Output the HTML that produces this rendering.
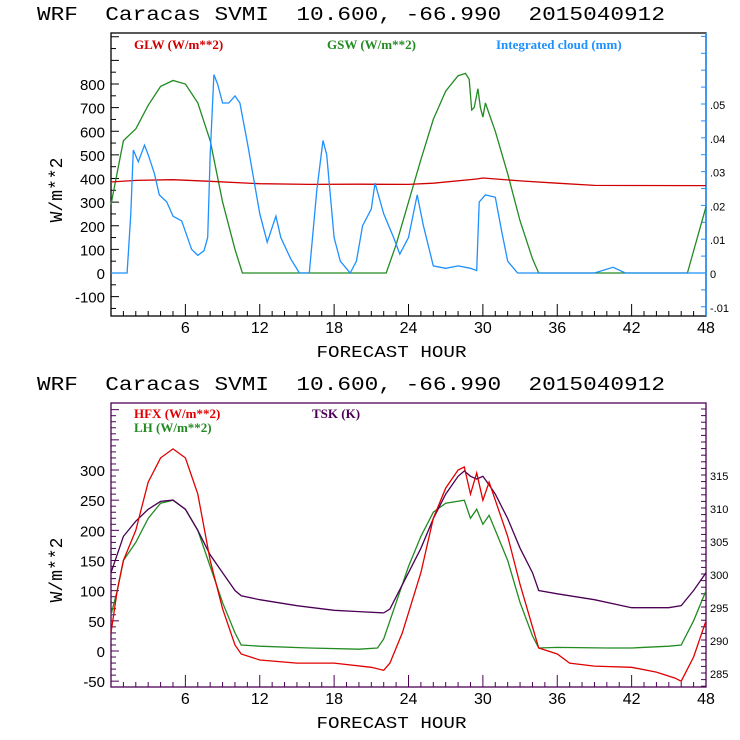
<!DOCTYPE html>
<html><head><meta charset="utf-8"><style>
html,body{margin:0;padding:0;background:#fff;width:740px;height:740px;overflow:hidden}
svg{display:block}
text{font-family:"Liberation Sans",sans-serif}
.lg{font-family:"Liberation Serif",serif;font-weight:bold;font-size:13px}
.ttl{font-family:"Liberation Mono",monospace;white-space:pre}
</style></head><body>
<svg id="c" width="740" height="740"></svg>
<script>
// ---- Top panel data ----
const gswHours=[0,1,2,3,4,5,6,7,8,9,10,10.6,22.2,23,24,25,26,27,28,28.6,28.9,29.1,29.3,29.6,29.8,30.0,30.2,30.4,31,32,33,34,34.5,46.5,48];
const gswVals=[290,560,610,710,790,815,800,720,560,300,100,0,0,120,300,480,650,770,835,845,820,690,700,780,700,660,720,690,600,420,220,60,0,0,280];
const glwHours=[0,2,5,8,12,16,20,24,26,29.5,30,33,36,39,48];
const glwVals=[385,392,395,388,378,375,376,375,380,398,402,390,380,371,370];
const cloudHours=[0,1.3,1.6,1.8,2.2,2.7,3,3.5,3.9,4.5,5,5.7,6.5,7,7.5,7.8,8,8.3,8.6,9,9.5,10,10.4,11,12,12.6,13.3,13.7,14.5,15.2,16,16.6,17.1,17.4,18,18.5,19.3,19.8,20.3,21,21.3,22,22.8,23.3,24,24.7,25.2,26,27,28,29,29.5,29.7,30.2,31,31.5,32,32.8,39,40.5,41.5,48];
const cloudVals=[0,0,.0175,.0364,.0329,.0378,.035,.0294,.0231,.021,.0168,.0154,.007,.0052,.0066,.0105,.035,.0587,.0559,.0503,.0503,.0524,.0503,.0385,.0175,.0091,.0168,.0105,.0042,0,0,.0245,.0392,.035,.0105,.0035,0,.0035,.014,.0189,.0266,.0175,.0105,.0056,.0105,.0231,.014,.0021,.0014,.0021,.0014,.0007,.021,.0231,.0224,.0126,.0035,0,0,.0017,0,0];
// ---- Bottom panel data ----
const hfxHours=[0,0.5,1,2,3,4,5,6,7,8,9,10,10.5,12,15,18,21,22,22.5,23.5,25,26,27,28,28.5,29,29.5,30,30.5,31,32,33,34,34.5,36,37,39,42,44,45.5,46,47,48];
const hfxVals=[30,100,150,200,280,320,335,320,260,150,70,10,-5,-15,-20,-20,-27,-32,-20,30,130,220,270,300,305,260,295,250,280,250,190,110,40,5,-5,-20,-25,-27,-35,-45,-50,-10,50];
const lhHours=[0,0.5,1,2,3,4,5,6,7,8,9,10,10.5,12,16,20,21.5,22,23,24,25,26,27,28.5,29,29.5,30,30.5,31,32,33,34,34.5,36,40,42,45,46,47,48];
const lhVals=[60,100,150,180,220,245,250,235,200,140,80,30,10,8,5,3,5,20,80,140,190,230,245,250,220,235,210,225,200,150,80,25,5,6,5,5,8,10,50,100];
const tskHours=[0,1,2,3,4,5,6,7,8,9,10,10.5,12,15,18,20,22,22.5,24,25,26,27,28,28.5,29,29.5,30,30.5,31,32,33,34,34.5,36,39,42,45,46,47,48];
const tskVals=[300.2,305.7,308.0,309.8,311.0,311.2,309.8,306.6,302.9,300.2,297.5,296.7,296.1,295.2,294.5,294.3,294.1,294.7,300.2,303.9,308.4,312.1,314.8,315.6,314.8,314.4,314.8,313.5,312.1,308.4,303.9,300.2,297.5,297.0,296.1,294.9,294.9,295.2,297.5,300.2];
const xTicks=[6,12,18,24,30,36,42,48];

const NS='http://www.w3.org/2000/svg';
const svg=document.getElementById('c');
function el(tag,attrs,parent,txt){const e=document.createElementNS(NS,tag);for(const k in attrs)e.setAttribute(k,attrs[k]);if(txt!==undefined)e.textContent=txt;(parent||svg).appendChild(e);return e;}
const L=111,R=706;
const xs=h=>L+(R-L)*h/48;
function lin(d0,d1,p0,p1){return v=>p0+(v-d0)*(p1-p0)/(d1-d0);}
function line(g,hours,vals,ys,color,name){
  let d='';hours.forEach((h,i)=>{d+=(i?'L':'M')+xs(h).toFixed(1)+','+ys(vals[i]).toFixed(1);});
  const p=el('path',{d:d,fill:'none',stroke:color,'stroke-width':1.3},g);
  
  
}
function panel(o){
  const g=el('g',{});
  
  
  const t=el('text',{x:37,y:o.top-13,'font-size':19,textLength:628,lengthAdjust:'spacingAndGlyphs',fill:'#000',class:'ttl'},g,'WRF  Caracas SVMI  10.600, -66.990  2015040912');
  
  
  const fr=el('rect',{x:L,y:o.top,width:R-L,height:o.bot-o.top,fill:'none',stroke:o.frame,'stroke-width':1.3},g);
  
  
  for(let h=1;h<48;h++){const maj=h%6==0;el('line',{x1:xs(h),x2:xs(h),y1:o.bot,y2:o.bot-(maj?12:5),stroke:o.frame},g);}
  xTicks.forEach(h=>{const tx=el('text',{x:xs(h),y:o.bot+17,'font-size':16,'text-anchor':'middle'},g,h);});
  const xt=el('text',{x:(L+R)/2-17,y:o.bot+41,'font-size':17,'text-anchor':'middle',class:'ttl',textLength:150,lengthAdjust:'spacingAndGlyphs'},g,'FORECAST HOUR');
  
  const yt=el('text',{x:0,y:0,'font-size':18,'text-anchor':'middle',class:'ttl',transform:`translate(${o.ytx},${o.ytc}) rotate(-90)`},g,'W/m**2');
  
  for(let v=o.lmin;v<=o.lmax;v+=o.lminor){const y=o.ys(v);if(y<o.top||y>o.bot)continue;const maj=Math.abs(v/o.lstep-Math.round(v/o.lstep))<1e-6;el('line',{x1:L,x2:L+(maj?8:5),y1:y,y2:y,stroke:o.frame},g);}
  o.lticks.forEach(v=>{const tx=el('text',{x:L-6,y:o.ys(v)+6,'font-size':15,'text-anchor':'end'},g,v);});
  for(let i=0;;i++){const v=o.rmin+i*o.rminor;const y=o.rs(v);if(y<o.top)break;if(y>o.bot)continue;el('line',{x1:R,x2:R-5,y1:y,y2:y,stroke:o.rcol},g);}
  o.rticks.forEach((v,i)=>{const tx=el('text',{x:R+4,y:o.rs(v)+5,'font-size':11},g,o.rlabels[i]);});
  return g;
}
const ysT=lin(0,800,273,84), rsT=lin(0,0.05,273,104);
const gT=panel({name:'radiation-panel',top:33,bot:316,frame:'#000',rcol:'#1e90ff',ys:ysT,rs:rsT,ytx:62,ytc:190,lmin:-150,lmax:1000,lminor:50,lstep:100,lticks:[-100,0,100,200,300,400,500,600,700,800],rmin:-0.015,rminor:0.005,rticks:[-0.01,0,0.01,0.02,0.03,0.04,0.05],rlabels:['-.01','0','.01','.02','.03','.04','.05']});
el('line',{x1:R,x2:R,y1:33,y2:316,stroke:'#1e90ff','stroke-width':1.5},gT);
line(gT,gswHours,gswVals,ysT,'#228b22','gsw-line');
line(gT,glwHours,glwVals,ysT,'#d00000','glw-line');
line(gT,cloudHours,cloudVals,rsT,'#1e90ff','cloud-line');
[['GLW (W/m**2)',134,49,'#d00000','legend-glw'],['GSW (W/m**2)',327,49,'#228b22','legend-gsw'],['Integrated cloud (mm)',496,49,'#1e90ff','legend-cloud']].forEach(a=>{const t=el('text',{x:a[1],y:a[2],fill:a[3],class:'lg'},gT,a[0]);});
const ysB=lin(0,300,651,470), rsB=lin(300,315,574,475);
const gB=panel({name:'flux-panel',top:403,bot:687,frame:'#4b0055',rcol:'#4b0055',ys:ysB,rs:rsB,ytx:62,ytc:570,lmin:-50,lmax:400,lminor:10,lstep:50,lticks:[-50,0,50,100,150,200,250,300],rmin:283,rminor:1,rticks:[285,290,295,300,305,310,315],rlabels:['285','290','295','300','305','310','315']});
line(gB,lhHours,lhVals,ysB,'#228b22','lh-line');
line(gB,tskHours,tskVals,rsB,'#4b0055','tsk-line');
line(gB,hfxHours,hfxVals,ysB,'#e00000','hfx-line');
[['HFX (W/m**2)',134,418,'#e00000','legend-hfx'],['LH  (W/m**2)',134,432,'#228b22','legend-lh'],['TSK (K)',312,418,'#4b0055','legend-tsk']].forEach(a=>{const t=el('text',{x:a[1],y:a[2],fill:a[3],class:'lg'},gB,a[0]);});
</script>
</body></html>
